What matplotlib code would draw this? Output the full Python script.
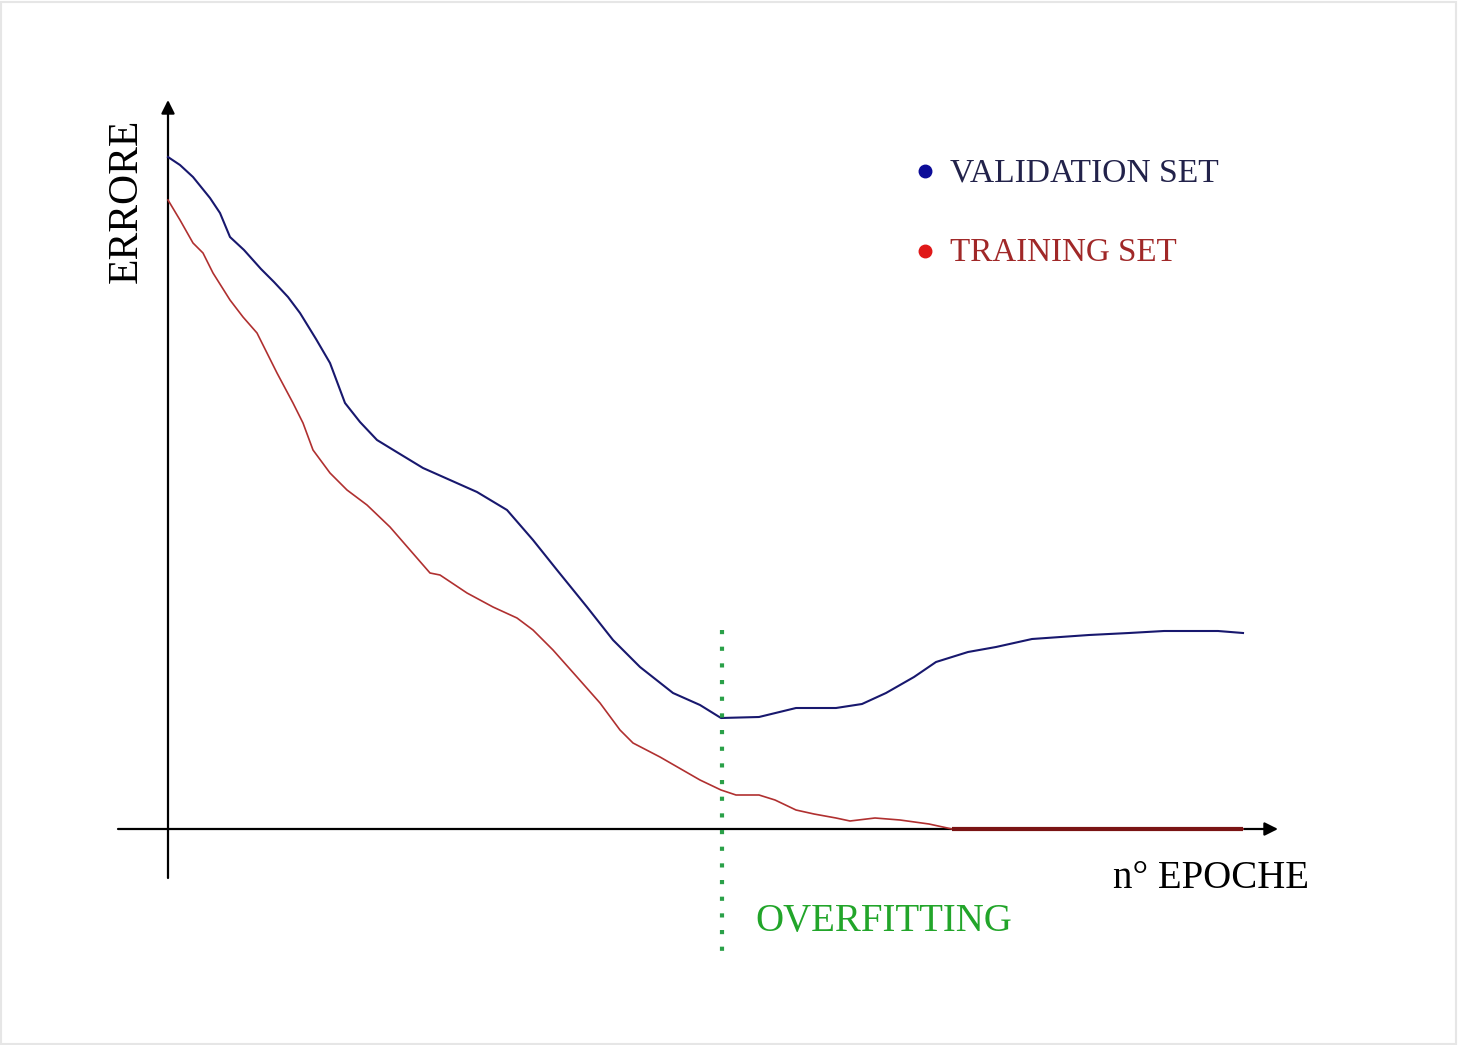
import matplotlib
matplotlib.use("Agg")
import matplotlib.pyplot as plt
import numpy as np

# curve data (epochs, error)
val_epoche = [0, 1.2, 2.5, 4.2, 5.2, 6.2, 7.6, 9.3, 10.6, 12.0, 13.2, 14.8, 16.2, 17.7, 19.2,
              20.9, 22.7, 25.5, 28.2, 30.9, 33.9, 36.5, 38.9, 41.9, 44.5, 47.2, 50.5, 53.2,
              55.3, 59.1, 62.8, 66.8, 69.4, 71.8, 74.6, 76.8, 80.0, 82.8, 86.4, 92.1, 96.1,
              99.6, 105.0, 107.5]
val_errore = [67.2, 66.4, 65.2, 63.1, 61.6, 59.2, 57.9, 56.0, 54.7, 53.2, 51.6, 49.0, 46.6,
              42.6, 40.7, 38.9, 37.8, 36.1, 34.9, 33.7, 31.9, 28.9, 25.9, 22.2, 18.9, 16.2,
              13.6, 12.4, 11.1, 11.2, 12.1, 12.1, 12.5, 13.6, 15.2, 16.7, 17.7, 18.2, 19.0,
              19.4, 19.6, 19.8, 19.8, 19.6]

train_epoche = [0, 1.2, 2.5, 3.5, 4.5, 6.2, 7.5, 8.9, 9.9, 10.9, 12.5, 13.5, 14.5, 16.2, 17.9,
                19.9, 22.2, 24.2, 26.2, 27.2, 29.9, 32.5, 34.9, 36.5, 38.5, 40.9, 43.2, 45.2,
                46.5, 49.2, 53.2, 55.3, 56.8, 59.1, 60.7, 62.8, 64.6, 66.8, 68.2, 70.7, 73.2,
                76.1, 78.4, 107.5]
train_errore = [62.9, 60.9, 58.6, 57.6, 55.6, 52.9, 51.2, 49.6, 47.6, 45.6, 42.6, 40.6, 37.9,
                35.6, 33.9, 32.4, 30.2, 27.9, 25.6, 25.4, 23.6, 22.2, 21.1, 19.9, 17.9, 15.2,
                12.6, 9.9, 8.6, 7.2, 4.9, 3.9, 3.4, 3.4, 2.9, 1.9, 1.5, 1.1, 0.8, 1.1, 0.9,
                0.5, 0, 0]

epoca_overfitting = 55.4

plt.rcParams['font.family'] = ['Liberation Serif', 'DejaVu Serif']

fig = plt.figure(figsize=(14.59, 10.45), dpi=100)
ax = fig.add_axes([0, 0, 1, 1])
ax.set_xlim(-16.8, 129.1)
ax.set_ylim(-21.6, 82.9)
ax.axis('off')

# frame grigio sottile attorno all'immagine
fig.patches.append(plt.Rectangle((0.001, 0.001), 0.997, 0.997, transform=fig.transFigure,
                                 fill=False, edgecolor='#e6e6e6', lw=1.5))

# assi con frecce
ax.annotate('', xy=(111.0, 0), xytext=(-5.0, 0),
            arrowprops=dict(arrowstyle='-|>', color='black', lw=1.6, mutation_scale=20,
                            shrinkA=0, shrinkB=0))
ax.annotate('', xy=(0, 72.9), xytext=(0, -4.9),
            arrowprops=dict(arrowstyle='-|>', color='black', lw=1.6, mutation_scale=20,
                            shrinkA=0, shrinkB=0))

# curve
ax.plot(val_epoche, val_errore, color='#18186e', lw=1.5, zorder=3)
ax.plot(train_epoche, train_errore, color='#b03030', lw=1.2, zorder=3)
te = np.array(train_epoche)
ty = np.array(train_errore)
ax.plot(te[ty == 0], ty[ty == 0], color='#7a1414', lw=3, zorder=4, solid_capstyle='butt')

# linea overfitting
ax.plot([epoca_overfitting, epoca_overfitting], [19.9, -12.6], color='#2aa048', lw=3,
        linestyle=(0, (1.0, 3.0)), zorder=5)

# testi
ax.text(-4.2, 62.8, 'ERRORE', rotation=90, ha='center', va='center', fontsize=30, color='black')
ax.text(104.3, -4.9, 'n° EPOCHE', ha='center', va='center', fontsize=28, color='black')
ax.text(58.7, -9.2, 'OVERFITTING', ha='left', va='center', fontsize=28, color='#22a52a')

# legenda
ax.plot([75.7], [65.8], 'o', color='#0c0c98', ms=9)
ax.plot([75.7], [57.8], 'o', color='#e01818', ms=9)
ax.text(78.2, 65.6, 'VALIDATION SET', ha='left', va='center', fontsize=24.2, color='#22224a')
ax.text(78.2, 57.6, 'TRAINING SET', ha='left', va='center', fontsize=23.8, color='#a02828')

fig.savefig('out.png', dpi=100, facecolor='white')
